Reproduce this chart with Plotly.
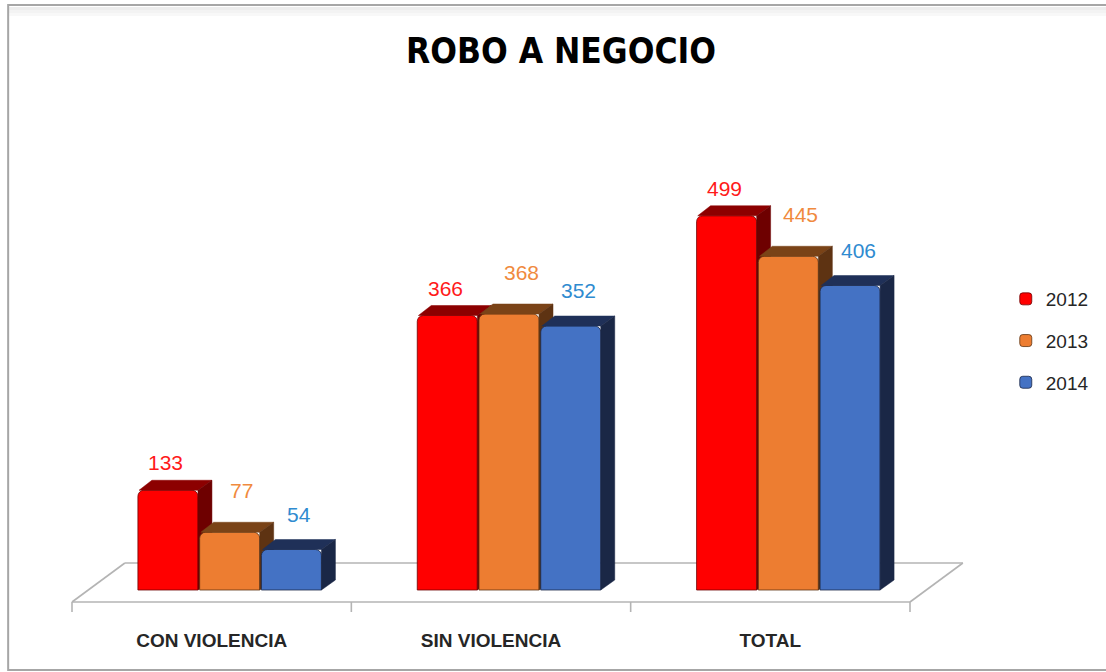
import plotly.graph_objects as go

# ---- data -------------------------------------------------------------
categories = ["CON VIOLENCIA", "SIN VIOLENCIA", "TOTAL"]
years = ["2012", "2013", "2014"]
values_2012 = [133, 366, 499]
values_2013 = [77, 368, 445]
values_2014 = [54, 352, 406]

series_values = [values_2012, values_2013, values_2014]

# ---- styling ------------------------------------------------------------
front_colors = ["#ff0000", "#ed7d31", "#4472c4"]
top_colors = ["#8c0000", "#7a4317", "#1f3058"]
side_colors = ["#6e0000", "#5e3312", "#1a2746"]
label_colors = ["#ff1a1a", "#f08a3e", "#2f8bd0"]
label_xshift = [-2, 12, 8]      # px
label_yshift = [14, 28, 22]     # px

W, H = 1106, 672
PL, PR, PT, PB = 72, 912, 150, 612          # plot area in pixels
PX_PER_UNIT = 0.75                          # vertical scale
BASE_PX = 590                               # pixel row of value 0
UNIT_PX = (PR - PL) / 3                     # pixels per category

bar_width = 0.215
bar_offsets = [-0.264, -0.043, 0.178]
depth_dx = 14 / UNIT_PX                     # depth of the 3D faces
depth_dy = 10 / PX_PER_UNIT

y_min = -(PB - BASE_PX) / PX_PER_UNIT
y_max = (BASE_PX - PT) / PX_PER_UNIT


def paper_x(p):
    return (p - PL) / (PR - PL)


def paper_y(p):
    return (PB - p) / (PB - PT)


fig = go.Figure()

for i, (year, vals) in enumerate(zip(years, series_values)):
    suffix = "" if i == 0 else str(i + 1)
    xa, ya = "x" + suffix, "y" + suffix

    # front faces
    fig.add_trace(go.Bar(
        x=list(range(len(categories))), y=vals, name=year,
        width=bar_width, offset=bar_offsets[i],
        marker=dict(color=front_colors[i], cornerradius=6,
                    line=dict(color=side_colors[i], width=0.8)),
        xaxis=xa, yaxis=ya, legendgroup=year, hoverinfo="y",
    ))

    # top and side faces, computed from each bar's value
    tx, ty, sx, sy = [], [], [], []
    for c, v in enumerate(vals):
        x0 = c + bar_offsets[i]
        x1 = x0 + bar_width
        tx += [x0 + 0.004, x0 + depth_dx, x1 + depth_dx, x1, x0 + 0.004, None]
        ty += [v, v + depth_dy, v + depth_dy, v, v, None]
        sx += [x1, x1, x1 + depth_dx, x1 + depth_dx, x1, None]
        sy += [0, v, v + depth_dy, depth_dy, 0, None]
    fig.add_trace(go.Scatter(
        x=tx, y=ty, fill="toself", fillcolor=top_colors[i], mode="lines",
        line=dict(color=top_colors[i], width=0.5), showlegend=False,
        hoverinfo="skip", xaxis=xa, yaxis=ya, legendgroup=year,
    ))
    fig.add_trace(go.Scatter(
        x=sx, y=sy, fill="toself", fillcolor=side_colors[i], mode="lines",
        line=dict(color=side_colors[i], width=0.5), showlegend=False,
        hoverinfo="skip", xaxis=xa, yaxis=ya, legendgroup=year,
    ))

    # value labels
    for c, v in enumerate(vals):
        fig.add_annotation(
            x=c + bar_offsets[i] + bar_width / 2, y=v, xref="x", yref="y",
            text=str(v), showarrow=False, yanchor="bottom",
            xshift=label_xshift[i], yshift=label_yshift[i],
            font=dict(family="Liberation Sans, Arial, sans-serif",
                      size=21, color=label_colors[i]),
        )

# ---- floor (perspective plane under the bars) ---------------------------
floor_color = "#b4b4b4"
fy, by = paper_y(602), paper_y(563)
fl, fr = paper_x(72), paper_x(912)
bl, br = paper_x(125), paper_x(965)
shapes = [
    dict(type="line", x0=fl, x1=fr, y0=fy, y1=fy),
    dict(type="line", x0=bl, x1=br, y0=by, y1=by),
    dict(type="line", x0=fl, x1=bl, y0=fy, y1=by),
    dict(type="line", x0=fr, x1=br, y0=fy, y1=by),
]
for k in range(len(categories) + 1):
    bx = k / len(categories)
    shapes.append(dict(type="line", x0=bx, x1=bx, y0=fy, y1=paper_y(612)))
for s in shapes:
    s.update(xref="paper", yref="paper", layer="below",
             line=dict(color=floor_color, width=1.6))

# ---- outer chart frame with a soft top shadow ----------------------------
for k, col in enumerate(["#ededed", "#f3f3f3", "#f8f8f8"]):
    shapes.append(dict(type="rect", xref="paper", yref="paper",
                       x0=paper_x(9), x1=paper_x(1110),
                       y0=paper_y(7 + 3 * k), y1=paper_y(10 + 3 * k),
                       fillcolor=col, line=dict(width=0), layer="below"))
shapes.append(dict(type="rect", xref="paper", yref="paper",
                   x0=paper_x(8), x1=paper_x(1112), y0=paper_y(670),
                   y1=paper_y(5), line=dict(color="#a6a6a6", width=2),
                   layer="below"))

axis_common = dict(range=[-0.5, 2.5], fixedrange=True, showgrid=False,
                   zeroline=False)
yaxis_common = dict(range=[y_min, y_max], fixedrange=True, showgrid=False,
                    zeroline=False, visible=False)

fig.update_layout(
    width=W, height=H,
    margin=dict(l=PL, r=W - PR, t=PT, b=H - PB),
    paper_bgcolor="white", plot_bgcolor="rgba(0,0,0,0)",
    showlegend=True,
    title=dict(text="<b>ROBO A NEGOCIO</b>", x=561 / W, xref="container",
               xanchor="center", y=1 - 51 / H, yref="container",
               yanchor="middle",
               font=dict(family="DejaVu Sans Condensed, Liberation Sans, sans-serif",
                         size=35, color="#000000")),
    xaxis=dict(**axis_common, tickvals=[0, 1, 2], ticktext=categories,
               ticks="", showline=False, ticklabelstandoff=15,
               tickfont=dict(family="Liberation Sans, Arial, sans-serif",
                             size=19, color="#262626", weight="bold")),
    yaxis=yaxis_common,
    xaxis2=dict(**axis_common, overlaying="x", visible=False),
    yaxis2=dict(**yaxis_common, overlaying="y"),
    xaxis3=dict(**axis_common, overlaying="x", visible=False),
    yaxis3=dict(**yaxis_common, overlaying="y"),
    legend=dict(x=paper_x(1008), y=paper_y(280), xanchor="left",
                yanchor="top", traceorder="grouped", tracegroupgap=14,
                font=dict(family="Liberation Sans, Arial, sans-serif",
                          size=19, color="#262626"),
                bgcolor="rgba(0,0,0,0)"),
    shapes=shapes,
)

fig.write_html("out.html")
